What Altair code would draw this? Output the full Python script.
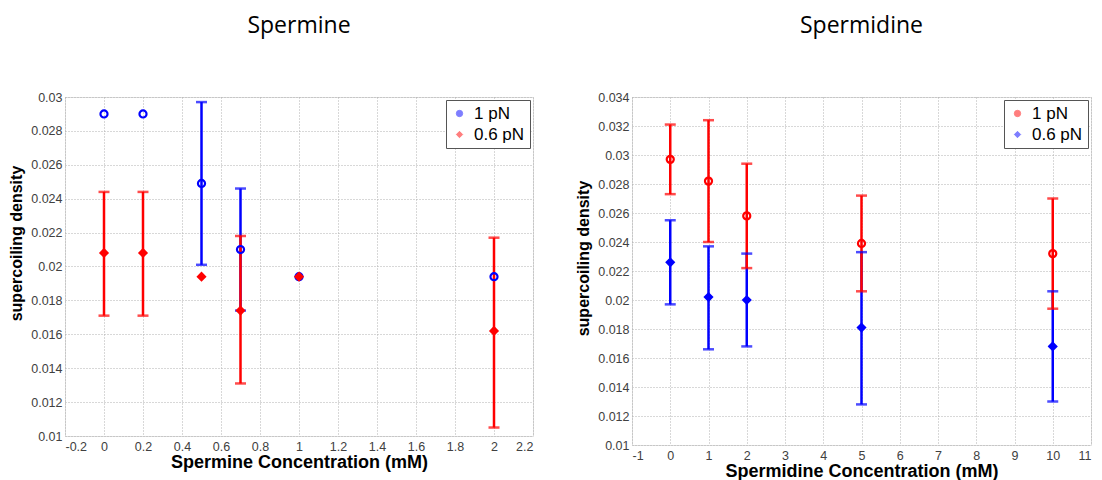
import altair as alt
import pandas as pd

# ---------------- Spermine panel ----------------
spm_x = [0, 0.2, 0.5, 0.7, 1, 2]
spm_1pN = [0.0290, 0.0290, 0.0249, 0.0210, 0.0194, 0.0194]
spm_1pN_lo = [None, None, 0.0201, 0.0174, None, None]
spm_1pN_hi = [None, None, 0.0297, 0.0246, None, None]
spm_06pN = [0.0208, 0.0208, 0.0194, 0.0174, 0.0194, 0.0162]
spm_06pN_lo = [0.0171, 0.0171, None, 0.0131, None, 0.0105]
spm_06pN_hi = [0.0244, 0.0244, None, 0.0218, None, 0.0217]
spm_xticks = [-0.2, 0, 0.2, 0.4, 0.6, 0.8, 1, 1.2, 1.4, 1.6, 1.8, 2, 2.2]
spm_yticks = [0.01, 0.012, 0.014, 0.016, 0.018, 0.02, 0.022, 0.024, 0.026, 0.028, 0.03]

# ---------------- Spermidine panel ----------------
spd_x = [0, 1, 2, 5, 10]
spd_1pN = [0.0297, 0.0282, 0.0258, 0.0239, 0.0232]
spd_1pN_lo = [0.0273, 0.0240, 0.0222, 0.0206, 0.0194]
spd_1pN_hi = [0.0321, 0.0324, 0.0294, 0.0272, 0.0270]
spd_06pN = [0.0226, 0.0202, 0.0200, 0.0181, 0.0168]
spd_06pN_lo = [0.0197, 0.0166, 0.0168, 0.0128, 0.0130]
spd_06pN_hi = [0.0255, 0.0237, 0.0232, 0.0233, 0.0206]
spd_xticks = [-1, 0, 1, 2, 3, 4, 5, 6, 7, 8, 9, 10, 11]
spd_yticks = [0.01, 0.012, 0.014, 0.016, 0.018, 0.02, 0.022, 0.024, 0.026,
              0.028, 0.03, 0.032, 0.034]

series_names = ["1 pN", "0.6 pN"]
BLUE = "#0000ff"
RED = "#ff0000"
FONT = "Liberation Sans"


def make_df(xs, ys, los, his, name, order, filled):
    rows = []
    for x, y, lo, hi in zip(xs, ys, los, his):
        rows.append({"x": x, "y": y, "lo": lo, "hi": hi, "series": name,
                     "order": order, "filled": filled})
    return pd.DataFrame(rows)


LEGEND = alt.Legend(
    title=None, orient="top-right", offset=3, padding=5,
    fillColor="#ffffff", strokeColor="#555555",
    labelFont=FONT, labelFontSize=17, labelColor="#000000",
    symbolSize=40, rowPadding=3, labelOffset=6,
    symbolFillColor="transparent", symbolOpacity=0.5, symbolStrokeWidth=1,
)


def panel(df, colors, shapes, fill_color, xdom, ydom, xticks, yticks, xtitle, title,
          w, h, ytitle_y):
    xs = alt.Scale(domain=xdom, nice=False, zero=False)
    ys = alt.Scale(domain=ydom, nice=False, zero=False)
    xaxis = alt.Axis(values=xticks, tickCount=40, labelExpr="'' + datum.value", title=xtitle,
                     grid=True, gridDash=[1, 2], gridColor="#b0b0b0",
                     ticks=False, labelPadding=4, domain=False, labelOverlap=False,
                     labelFont=FONT, labelFontSize=12.5, labelColor="#404040",
                     titleFont=FONT, titleFontSize=18, titleFontWeight="bold",
                     titleColor="#000000", titlePadding=1)
    yaxis = alt.Axis(values=yticks, tickCount=40, labelExpr="'' + datum.value",
                     title="supercoiling density",
                     grid=True, gridDash=[1, 2], gridColor="#b0b0b0",
                     ticks=False, labelPadding=3, domain=False, labelOverlap=False,
                     labelFont=FONT, labelFontSize=12.5, labelColor="#404040",
                     titleFont=FONT, titleFontSize=16, titleFontWeight="bold",
                     titleColor="#000000", titlePadding=6, titleY=ytitle_y)
    err = df.dropna(subset=["lo"])
    eb = alt.Chart(err)
    cscale = alt.Scale(domain=series_names, range=colors)
    sscale = alt.Scale(domain=series_names, range=shapes)
    rules = eb.mark_rule(strokeWidth=2.5).encode(
        x=alt.X("x:Q", scale=xs, axis=xaxis),
        y=alt.Y("lo:Q", scale=ys, axis=yaxis),
        y2="hi:Q",
        color=alt.Color("series:N", scale=cscale, legend=LEGEND),
    )
    caps_lo = eb.mark_tick(orient="horizontal", size=11, thickness=2.5).encode(
        x=alt.X("x:Q", scale=xs, axis=xaxis), y=alt.Y("lo:Q", scale=ys, axis=yaxis),
        color=alt.Color("series:N", scale=cscale, legend=LEGEND),
    )
    caps_hi = eb.mark_tick(orient="horizontal", size=11, thickness=2.5).encode(
        x=alt.X("x:Q", scale=xs, axis=xaxis), y=alt.Y("hi:Q", scale=ys, axis=yaxis),
        color=alt.Color("series:N", scale=cscale, legend=LEGEND),
    )
    pts_open = alt.Chart(df).mark_point(size=50, strokeWidth=2.2, opacity=1,
                                        filled=False).encode(
        x=alt.X("x:Q", scale=xs, axis=xaxis),
        y=alt.Y("y:Q", scale=ys, axis=yaxis),
        color=alt.Color("series:N", scale=cscale, legend=LEGEND),
        shape=alt.Shape("series:N", scale=sscale, legend=LEGEND),
        order="order:Q",
    )
    pts_fill = alt.Chart(df[df["filled"]]).mark_point(
        size=50, strokeWidth=1.5, opacity=1, filled=True, shape="diamond",
        color=fill_color).encode(
        x=alt.X("x:Q", scale=xs, axis=xaxis),
        y=alt.Y("y:Q", scale=ys, axis=yaxis),
    )
    return alt.layer(rules, caps_lo, caps_hi, pts_open, pts_fill).properties(
        width=w, height=h,
        title=alt.TitleParams(title, font="Open Sans", fontSize=23,
                              fontWeight="normal", color="#000000",
                              anchor="middle", frame="group", offset=53),
    )


left_df = pd.concat([
    make_df(spm_x, spm_1pN, spm_1pN_lo, spm_1pN_hi, "1 pN", 0, False),
    make_df(spm_x, spm_06pN, spm_06pN_lo, spm_06pN_hi, "0.6 pN", 1, True),
], ignore_index=True)
right_df = pd.concat([
    make_df(spd_x, spd_06pN, spd_06pN_lo, spd_06pN_hi, "0.6 pN", 0, True),
    make_df(spd_x, spd_1pN, spd_1pN_lo, spd_1pN_hi, "1 pN", 1, False),
], ignore_index=True)

left = panel(left_df, [BLUE, RED], ["circle", "diamond"], RED, [-0.2, 2.2], [0.01, 0.03],
             spm_xticks, spm_yticks, "Spermine Concentration (mM)", "Spermine",
             468, 339, 146)
right = panel(right_df, [RED, BLUE], ["circle", "diamond"], BLUE, [-1, 11], [0.01, 0.034],
              spd_xticks, spd_yticks, "Spermidine Concentration (mM)", "Spermidine",
              459, 348, 161)

chart = alt.hconcat(left, right, spacing=41).resolve_scale(
    color="independent", shape="independent"
).resolve_legend(
    color="independent", shape="independent"
).properties(
    padding={"left": 0, "top": 6, "right": 0, "bottom": 0}
).configure_view(
    stroke="#888888", strokeWidth=1
).configure(background="#ffffff")

chart.save("out.html", embed_options={"renderer": "svg", "actions": False})
